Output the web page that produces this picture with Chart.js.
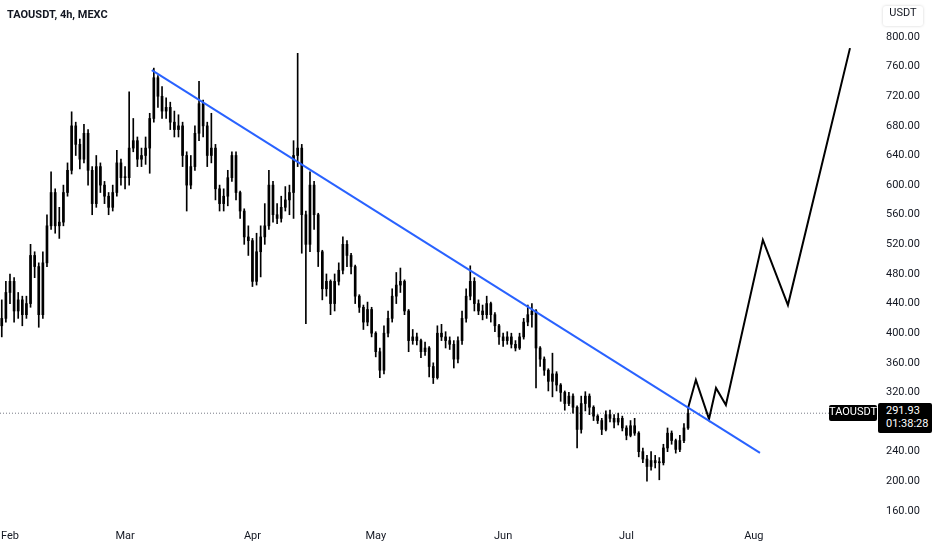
<!DOCTYPE html>
<html>
<head>
<meta charset="utf-8">
<title>TAOUSDT, 4h, MEXC</title>
<script src="https://cdn.jsdelivr.net/npm/chart.js@4.4.1/dist/chart.umd.min.js"></script>
<style>
  html, body { margin: 0; padding: 0; background: #fff; }
  #wrap { position: relative; width: 932px; height: 550px; overflow: hidden; }
  #chart { position: absolute; left: 0; top: 0; }
  .symbol-title { position: absolute; left: 7px; top: 8px; font: bold 11px Roboto, sans-serif; color: #131722; }
  .currency { position: absolute; left: 883px; top: 6px; width: 40px; height: 20px; line-height: 20px; text-align: center;
    font: 11px Roboto, sans-serif; color: #131722; background: #fff; border-radius: 3px; box-shadow: 0 0 3px rgba(0,0,0,0.18); }
  .sym-tag { position: absolute; left: 829px; width: 48px; height: 16px; line-height: 16px; text-align: center;
    background: #000; color: #fff; font: 11px Roboto, sans-serif; border-radius: 2px; }
  .price-box { position: absolute; left: 878px; width: 46px; height: 29px; padding: 1px 0 0 8px; box-sizing: content-box;
    background: #000; color: #fff; font: 11px Roboto, sans-serif; line-height: 13px; border-radius: 2px; }
</style>
</head>
<body>
<div id="wrap">
  <canvas id="chart" width="932" height="550"></canvas>
  <div class="symbol-title">TAOUSDT, 4h, MEXC</div>
  <div class="currency">USDT</div>
  <div class="sym-tag" id="symTag">TAOUSDT</div>
  <div class="price-box" id="priceBox"><div id="lastPrice"></div><div id="countdown"></div></div>
</div>
<script>
// Daily candles, day 0 = 1 Feb
const startDay = -2;

const opens = [
  410, 420, 455, 470, 430, 445, 425, 440, 505, 490,
  425, 495, 545, 590, 545, 550, 590, 620, 680, 655,
  635, 670, 620, 575, 625, 600, 585, 570, 590, 630,
  610, 610, 650, 660, 635, 640, 650, 690, 745, 720,
  700, 705, 685, 675, 680, 640, 600, 625, 670, 710,
  680, 640, 650, 595, 575, 585, 610, 640, 590, 565,
  530, 525, 470, 510, 530, 545, 600, 560, 555, 570,
  580, 590, 640, 650, 560, 520, 600, 560, 510, 460,
  470, 440, 470, 485, 520, 505, 490, 450, 435, 415,
  432, 400, 375, 350, 400, 420, 450, 465, 470, 430,
  390, 395, 390, 375, 380, 355, 340, 400, 395, 390,
  385, 365, 390, 420, 450, 470, 440, 430, 425, 440,
  425, 410, 395, 390, 395, 385, 380, 395, 415, 425,
  430, 380, 365, 350, 335, 345, 330, 320, 305, 315,
  300, 270, 305, 315, 300, 288, 282, 270, 290, 285,
  280, 285, 272, 262, 275, 265, 240, 230, 220, 228,
  225, 225, 245, 265, 255, 243, 255, 272
];

const highs = [
  445, 470, 480, 475, 455, 450, 450, 520, 510, 495,
  510, 560, 618, 595, 570, 600, 630, 699, 685, 662,
  682, 675, 625, 640, 630, 605, 590, 600, 647, 635,
  625, 726, 690, 665, 650, 665, 697, 758, 748, 733,
  718, 712, 700, 695, 685, 645, 640, 680, 740, 715,
  685, 697, 655, 600, 595, 620, 645, 645, 592, 568,
  545, 528, 535, 545, 575, 620, 605, 575, 585, 598,
  600, 660, 778, 655, 565, 618, 605, 562, 512, 480,
  472, 480, 495, 530, 525, 508, 492, 452, 438, 442,
  435, 402, 380, 410, 430, 460, 482, 488, 472, 432,
  405, 400, 392, 388, 382, 360, 410, 412, 402, 395,
  390, 395, 430, 460, 491, 475, 445, 438, 450, 442,
  428, 412, 400, 402, 400, 390, 400, 420, 438, 440,
  432, 382, 368, 352, 373, 348, 332, 322, 320, 318,
  302, 315, 321, 318, 302, 290, 285, 295, 296, 290,
  292, 288, 275, 282, 285, 267, 245, 235, 240, 235,
  232, 250, 272, 268, 257, 262, 278, 301
];

const lows = [
  395, 415, 440, 415, 420, 410, 420, 435, 475, 408,
  420, 490, 540, 535, 528, 545, 585, 615, 640, 622,
  630, 600, 560, 570, 590, 575, 560, 565, 585, 600,
  595, 600, 645, 625, 625, 628, 616, 685, 705, 690,
  690, 675, 665, 665, 625, 565, 595, 620, 660, 665,
  625, 630, 580, 565, 565, 572, 605, 580, 555, 520,
  505, 463, 465, 476, 520, 540, 550, 548, 550, 565,
  560, 555, 625, 508, 413, 510, 540, 490, 445, 450,
  425, 430, 465, 480, 490, 480, 440, 428, 405, 410,
  395, 368, 340, 345, 395, 415, 440, 455, 425, 375,
  385, 384, 367, 370, 341, 332, 338, 390, 380, 378,
  353, 360, 385, 415, 445, 430, 425, 418, 420, 415,
  402, 385, 382, 385, 380, 376, 378, 392, 410, 408,
  326, 355, 343, 322, 314, 322, 308, 296, 302, 292,
  245, 265, 295, 290, 282, 278, 263, 268, 280, 272,
  276, 268, 256, 260, 262, 233, 225, 200, 215, 218,
  202, 222, 240, 250, 238, 240, 252, 270
];

const closes = [
  420, 455, 470, 430, 445, 425, 440, 505, 490, 425,
  495, 545, 590, 545, 550, 590, 620, 680, 655, 635,
  670, 620, 575, 625, 600, 585, 570, 590, 630, 610,
  610, 650, 660, 635, 640, 650, 690, 745, 720, 700,
  705, 685, 675, 680, 640, 600, 625, 670, 710, 680,
  640, 650, 595, 575, 585, 610, 640, 590, 565, 530,
  525, 470, 510, 530, 545, 600, 560, 555, 570, 580,
  590, 640, 650, 560, 520, 600, 560, 510, 460, 470,
  440, 470, 485, 520, 505, 490, 450, 435, 415, 432,
  400, 375, 350, 400, 420, 450, 465, 470, 430, 390,
  395, 390, 375, 380, 355, 340, 400, 395, 390, 385,
  365, 390, 420, 450, 470, 440, 430, 425, 440, 425,
  410, 395, 390, 395, 385, 380, 395, 415, 425, 430,
  380, 365, 350, 335, 345, 330, 320, 305, 315, 300,
  270, 305, 315, 300, 288, 282, 270, 290, 285, 280,
  285, 272, 262, 275, 265, 240, 230, 220, 228, 225,
  225, 245, 265, 255, 243, 255, 272, 291.93
];

// Descending trendline and the drawn projection
const trendDays = [34.5, 182.5];
const trendPrices = [755.4, 238.3];
const projDays = [165, 166.9, 170.1, 171.8, 174.2, 183.2, 189.3, 204.4];
const projPrices = [299, 337, 284, 326, 303, 526, 438, 785];

// Axis ticks
const monthDays = [0, 28, 59, 89, 120, 150, 181];
const monthLabels = ['Feb', 'Mar', 'Apr', 'May', 'Jun', 'Jul', 'Aug'];
const priceTicks = [160, 200, 240, 280, 320, 360, 400, 440, 480, 520, 560, 600, 640, 680, 720, 760, 800];

const lastPrice = 291.93;
const countdown = '01:38:28';

class TaoChart {
  constructor() {
    this.xMin = -2.43;
    this.xMax = 210;
    this.init();
  }

  init() {
    document.getElementById('lastPrice').textContent = lastPrice.toFixed(2);
    document.getElementById('countdown').textContent = countdown;
    this.createChart();
  }

  candleWicks() {
    return closes.map((c, i) => ({ x: startDay + i, y: [lows[i], highs[i]] }));
  }

  candleBodies() {
    return closes.map((c, i) => ({ x: startDay + i, y: [Math.min(opens[i], c), Math.max(opens[i], c)] }));
  }

  placePriceTag(chart) {
    const py = chart.scales.y.getPixelForValue(lastPrice);
    document.getElementById('symTag').style.top = `${Math.round(py - 8)}px`;
    document.getElementById('priceBox').style.top = `${Math.round(py - 10)}px`;
  }

  createChart() {
    const ctx = document.getElementById('chart');
    const self = this;

    new Chart(ctx, {
      type: 'bar',
      data: {
        datasets: [
          {
            type: 'line',
            data: trendDays.map((d, i) => ({ x: d, y: trendPrices[i] })),
            borderColor: '#2962ff',
            borderWidth: 2,
            pointRadius: 0,
            order: 1
          },
          {
            type: 'line',
            data: projDays.map((d, i) => ({ x: d, y: projPrices[i] })),
            borderColor: '#000000',
            borderWidth: 2,
            pointRadius: 0,
            borderJoinStyle: 'miter',
            order: 2
          },
          {
            data: this.candleBodies(),
            backgroundColor: '#000000',
            barThickness: 2,
            minBarLength: 1,
            grouped: false,
            order: 3
          },
          {
            data: this.candleWicks(),
            backgroundColor: '#000000',
            barThickness: 1,
            grouped: false,
            order: 4
          },
          {
            type: 'line',
            data: [{ x: this.xMin, y: lastPrice }, { x: this.xMax, y: lastPrice }],
            borderColor: '#787b86',
            borderWidth: 1,
            borderDash: [1, 2],
            pointRadius: 0,
            order: 5
          }
        ]
      },
      options: {
        responsive: false,
        animation: false,
        layout: { padding: 0 },
        plugins: {
          legend: { display: false },
          tooltip: { enabled: false }
        },
        scales: {
          x: {
            type: 'linear',
            min: this.xMin,
            max: this.xMax,
            offset: false,
            grid: { display: false, drawTicks: false },
            border: { display: false },
            ticks: {
              color: '#131722',
              font: { family: 'Roboto', size: 11 },
              padding: 8,
              maxRotation: 0,
              autoSkip: false,
              callback: (v) => {
                const k = monthDays.indexOf(v);
                return k >= 0 ? monthLabels[k] : '';
              }
            },
            afterBuildTicks: (s) => { s.ticks = monthDays.map(v => ({ value: v })); },
            afterFit: (s) => { s.height = 28; s.paddingLeft = 0; s.paddingRight = 0; }
          },
          y: {
            position: 'right',
            min: 145,
            max: 850,
            grid: { display: false, drawTicks: false },
            border: { display: false },
            ticks: {
              color: '#131722',
              font: { family: 'Roboto', size: 11 },
              padding: 13,
              callback: (v) => v.toFixed(2)
            },
            afterBuildTicks: (s) => { s.ticks = priceTicks.map(v => ({ value: v })); },
            afterFit: (s) => { s.width = 59; s.paddingTop = 0; s.paddingBottom = 0; }
          }
        }
      },
      plugins: [{
        id: 'priceTag',
        afterDraw: (chart) => self.placePriceTag(chart)
      }]
    });
  }
}

document.addEventListener('DOMContentLoaded', () => {
  new TaoChart();
});
</script>
</body>
</html>
